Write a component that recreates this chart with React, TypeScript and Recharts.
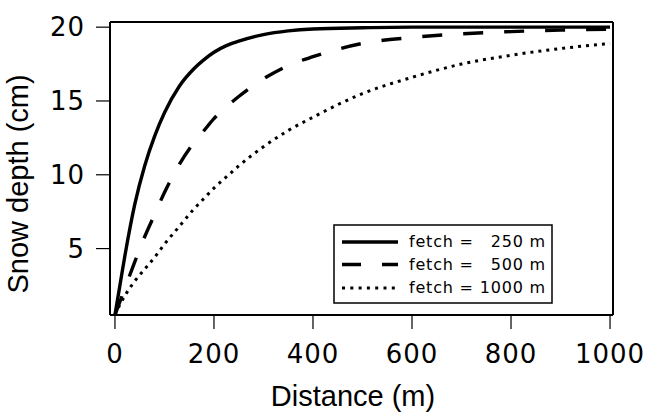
import { LineChart, Line, XAxis, YAxis, Legend } from "recharts";

// distance from the upwind edge (m) and snow depth (cm) for each fetch
const distance = [0, 10, 20, 40, 60, 80, 100, 130, 160, 180, 200, 225, 250, 300, 350, 400, 500, 600, 700, 800, 900, 1000];
const depth250 = [0.5, 2.5, 4.5, 8.0, 10.6, 12.6, 14.2, 16.0, 17.2, 17.8, 18.3, 18.75, 19.05, 19.5, 19.75, 19.88, 19.96, 20, 20, 20, 20, 20];
const depth500 = [0.5, 1.4, 2.3, 4.1, 5.8, 7.3, 8.8, 10.7, 12.2, 13.0, 13.8, 14.6, 15.3, 16.5, 17.4, 18.0, 18.9, 19.3, 19.55, 19.7, 19.8, 19.85];
const depth1000 = [0.5, 1.2, 1.8, 2.8, 3.6, 4.4, 5.3, 6.5, 7.7, 8.4, 9.1, 9.85, 10.6, 11.9, 13.0, 13.9, 15.5, 16.6, 17.5, 18.1, 18.55, 18.9];

const fetchLabels = ["250", "500", "1000"];
const xTicks = [0, 200, 400, 600, 800, 1000];
const yTicks = [5, 10, 15, 20];

const data = distance.map((d, i) => ({
  distance: d,
  f250: depth250[i],
  f500: depth500[i],
  f1000: depth1000[i],
}));

const series = [
  { key: "f250", dash: undefined, width: 3.4 },
  { key: "f500", dash: "20 21", width: 3.4 },
  { key: "f1000", dash: "3 5", width: 3 },
];

const tickFont = { fill: "#000", fontSize: 26, fontFamily: "DejaVu Sans", letterSpacing: 1 };
const axisLine = { stroke: "#000", strokeWidth: 2 };
const tickLine = { stroke: "#000", strokeWidth: 1.2 };

function FetchLegend() {
  const rows = [23, 45.5, 69];
  const legendDash = [undefined, "19 21", "3 5.3"];
  return (
    <svg width={222} height={82} style={{ display: "block" }}>
      <rect x={1} y={1} width={218} height={78} fill="#fff" stroke="#000" strokeWidth={1.5} />
      {fetchLabels.map((f, i) => (
        <g key={f}>
          <line
            x1={9}
            x2={65}
            y1={rows[i] - 5}
            y2={rows[i] - 5}
            stroke="#000"
            strokeWidth={i === 2 ? 3 : 3.6}
            strokeDasharray={legendDash[i]}
          />
          <text x={76} y={rows[i]} fontFamily="DejaVu Sans" fontSize={16} letterSpacing={0.8}>
            fetch =
          </text>
          <text x={213} y={rows[i]} textAnchor="end" fontFamily="DejaVu Sans" fontSize={16} letterSpacing={0.8}>
            {f} m
          </text>
        </g>
      ))}
    </svg>
  );
}

export default function App() {
  return (
    <div style={{ position: "absolute", left: 0, top: 0, background: "#fff" }}>
      <LineChart width={645} height={413} data={data} margin={{ top: 0, right: 0, bottom: 0, left: 0 }}>
        <XAxis
          dataKey="distance"
          type="number"
          domain={[-10, 1006]}
          ticks={xTicks}
          allowDataOverflow
          height={98}
          tickSize={14}
          tickMargin={16}
          tick={tickFont}
          axisLine={axisLine}
          tickLine={tickLine}
          label={() => (
            <text x={353} y={406} textAnchor="middle" fontFamily="Liberation Sans" fontSize={29} fill="#000">
              Distance (m)
            </text>
          )}
        />
        <XAxis
          xAxisId="top"
          orientation="top"
          dataKey="distance"
          type="number"
          domain={[-10, 1006]}
          ticks={xTicks}
          allowDataOverflow
          height={22}
          tickSize={12}
          tick={false}
          axisLine={axisLine}
          tickLine={tickLine}
        />
        <YAxis
          type="number"
          domain={[0.5, 20.35]}
          ticks={yTicks}
          allowDataOverflow
          width={110}
          tickSize={14}
          tickMargin={11}
          tick={tickFont}
          axisLine={axisLine}
          tickLine={tickLine}
          label={() => (
            <text
              x={28}
              y={184}
              transform="rotate(-90 28 184)"
              textAnchor="middle"
              fontFamily="Liberation Sans"
              fontSize={29}
              fill="#000"
            >
              Snow depth (cm)
            </text>
          )}
        />
        <YAxis
          yAxisId="right"
          orientation="right"
          type="number"
          domain={[0.5, 20.35]}
          ticks={yTicks}
          allowDataOverflow
          width={32}
          tickSize={14}
          tick={false}
          axisLine={axisLine}
          tickLine={tickLine}
        />
        {series.map((s) => (
          <Line
            key={s.key}
            dataKey={s.key}
            type="monotone"
            stroke="#000"
            strokeWidth={s.width}
            strokeDasharray={s.dash}
            dot={false}
            isAnimationActive={false}
          />
        ))}
        <Legend
          layout="horizontal"
          verticalAlign="middle"
          align="center"
          content={() => <FetchLegend />}
          wrapperStyle={{ left: 333, top: 224, width: 222, height: 82 }}
        />
      </LineChart>
    </div>
  );
}
